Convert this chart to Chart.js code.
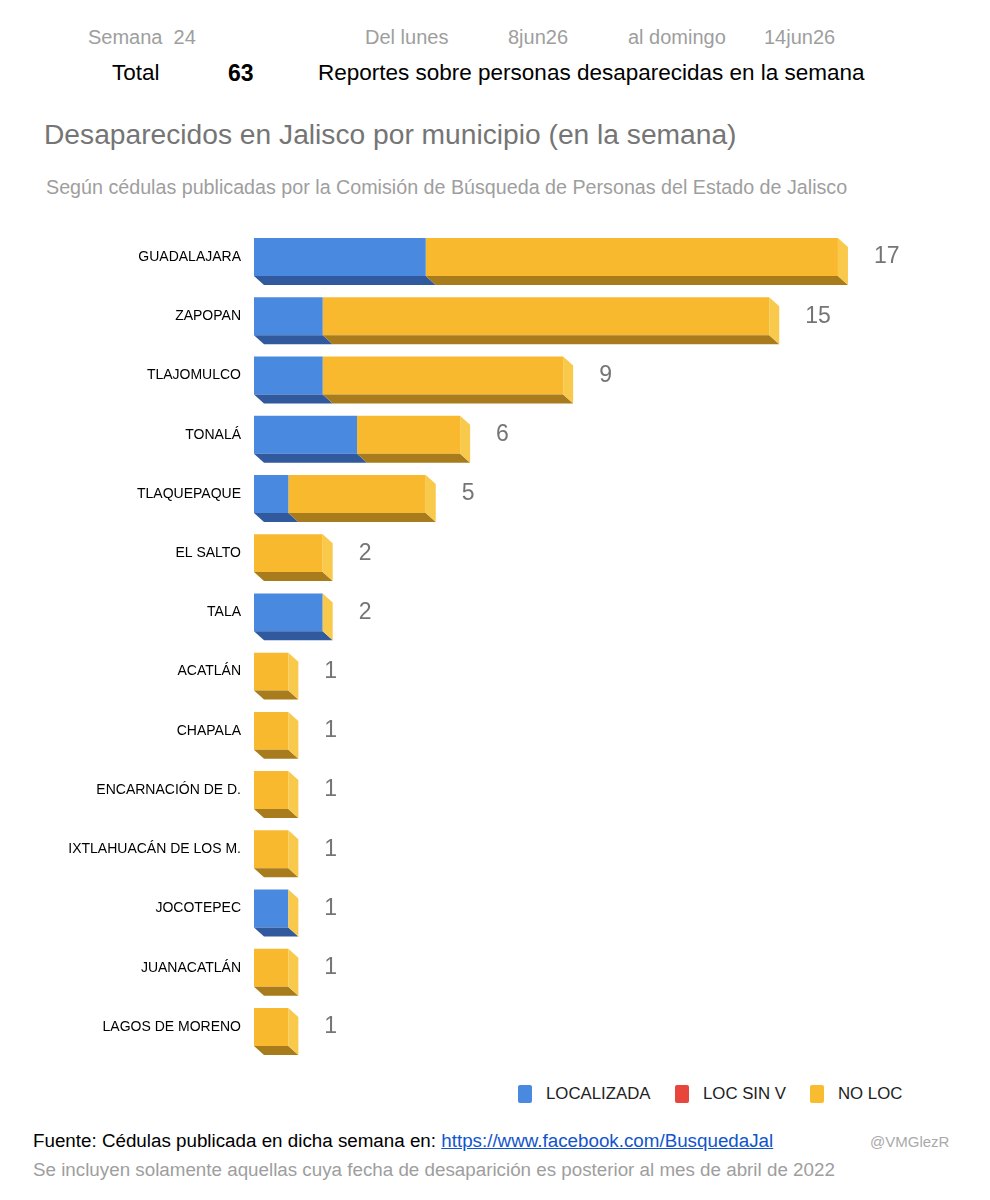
<!DOCTYPE html>
<html>
<head>
<meta charset="utf-8">
<script src="https://cdn.jsdelivr.net/npm/chart.js@4/dist/chart.umd.min.js"></script>
<style>
  body { margin: 0; background: #fff; font-family: "Liberation Sans", Arial, sans-serif; }
  #page { position: relative; width: 990px; height: 1200px; overflow: hidden; }
  .t { position: absolute; white-space: nowrap; line-height: 1; }
  .hd { color: #9e9e9e; font-size: 20px; top: 27px; }
  .tot { color: #000; font-size: 22.5px; top: 62px; }
  #chartBox { position: absolute; left: 0; top: 206px; width: 990px; height: 872px; }
  .lg { position: absolute; top: 1084px; font-size: 16.8px; color: #222; display: flex; align-items: center; }
  .lg span.sw { display: inline-block; width: 14px; height: 18px; border-radius: 2px; margin-right: 14px; }
  a { color: #1155cc; }
</style>
</head>
<body>
<div id="page">
  <div class="t hd" style="left:88px">Semana&nbsp; 24</div>
  <div class="t hd" style="left:365px">Del lunes</div>
  <div class="t hd" style="left:508px">8jun26</div>
  <div class="t hd" style="left:628px">al domingo</div>
  <div class="t hd" style="left:764px">14jun26</div>

  <div class="t tot" style="left:112px">Total</div>
  <div class="t tot" style="left:228px;font-weight:bold;font-size:23px">63</div>
  <div class="t tot" style="left:318px">Reportes sobre personas desaparecidas en la semana</div>

  <div class="t" style="left:44px;top:120px;font-size:28.2px;color:#757575">Desaparecidos en Jalisco por municipio (en la semana)</div>
  <div class="t" style="left:46px;top:178px;font-size:19.7px;color:#9e9e9e">Según cédulas publicadas por la Comisión de Búsqueda de Personas del Estado de Jalisco</div>

  <div id="chartBox"><canvas id="chart"></canvas></div>

  <div class="lg" style="left:518px"><span class="sw" style="background:#4a89e0"></span>LOCALIZADA</div>
  <div class="lg" style="left:675px"><span class="sw" style="background:#e8453c"></span>LOC SIN V</div>
  <div class="lg" style="left:810px"><span class="sw" style="background:#f9bb2f"></span>NO LOC</div>

  <div class="t" style="left:33px;top:1132px;font-size:18.8px;color:#000">Fuente: Cédulas publicada en dicha semana en: <a href="#">https://www.facebook.com/BusquedaJal</a></div>
  <div class="t" style="left:870px;top:1134px;font-size:15px;color:#aaaaaa">@VMGlezR</div>
  <div class="t" style="left:33px;top:1161px;font-size:18.8px;color:#9e9e9e">Se incluyen solamente aquellas cuya fecha de desaparición es posterior al mes de abril de 2022</div>
</div>

<script>
const municipios = ["GUADALAJARA", "ZAPOPAN", "TLAJOMULCO", "TONALÁ", "TLAQUEPAQUE", "EL SALTO", "TALA",
  "ACATLÁN", "CHAPALA", "ENCARNACIÓN DE D.", "IXTLAHUACÁN DE LOS M.", "JOCOTEPEC", "JUANACATLÁN", "LAGOS DE MORENO"];
const localizada = [5, 2, 2, 3, 1, 0, 2, 0, 0, 0, 0, 1, 0, 0];
const locSinV    = [0, 0, 0, 0, 0, 0, 0, 0, 0, 0, 0, 0, 0, 0];
const noLoc      = [12, 13, 7, 3, 4, 2, 0, 1, 1, 1, 1, 0, 1, 1];

const front = ["#4a89e0", "#e8453c", "#f9b92f"];
const bottom = ["#30599e", "#9c2d27", "#a87b1c"];
const sideColor = "#f9c94b";
const DX = 10, DY = 9;

// caras de profundidad (efecto 3D) y totales
const depthPlugin = {
  id: "depth",
  afterDatasetsDraw(chart) {
    const ctx = chart.ctx;
    const n = chart.data.labels.length;
    ctx.save();
    for (let j = 0; j < n; j++) {
      let last = null;
      chart.data.datasets.forEach((ds, i) => {
        const el = chart.getDatasetMeta(i).data[j];
        const x0 = Math.min(el.base, el.x), x1 = Math.max(el.base, el.x);
        const yb = el.y + el.height / 2;
        last = el;
        if (x1 - x0 < 0.5) return;
        ctx.fillStyle = bottom[i];
        ctx.beginPath();
        ctx.moveTo(x0, yb);
        ctx.lineTo(x1, yb);
        ctx.lineTo(x1 + DX, yb + DY);
        ctx.lineTo(x0 + DX, yb + DY);
        ctx.closePath();
        ctx.fill();
      });
      const xe = last.x, yt = last.y - last.height / 2, yb = last.y + last.height / 2;
      ctx.fillStyle = sideColor;
      ctx.beginPath();
      ctx.moveTo(xe, yt);
      ctx.lineTo(xe + DX, yt + DY);
      ctx.lineTo(xe + DX, yb + DY);
      ctx.lineTo(xe, yb);
      ctx.closePath();
      ctx.fill();

      const total = localizada[j] + locSinV[j] + noLoc[j];
      ctx.fillStyle = "#757575";
      ctx.font = "23px 'Liberation Sans', Arial, sans-serif";
      ctx.textBaseline = "middle";
      ctx.textAlign = "left";
      ctx.fillText(String(total), xe + 36, last.y);
    }
    ctx.restore();
  }
};

new Chart(document.getElementById("chart"), {
  type: "bar",
  data: {
    labels: municipios,
    datasets: [
      { label: "LOCALIZADA", data: localizada, backgroundColor: front[0] },
      { label: "LOC SIN V", data: locSinV, backgroundColor: front[1] },
      { label: "NO LOC", data: noLoc, backgroundColor: front[2] }
    ]
  },
  options: {
    indexAxis: "y",
    responsive: true,
    maintainAspectRatio: false,
    animation: false,
    barPercentage: 0.64,
    categoryPercentage: 1,
    layout: { padding: { top: 7, bottom: 13, right: 49, left: 0 } },
    plugins: { legend: { display: false }, tooltip: { enabled: false } },
    scales: {
      x: { stacked: true, min: 0, max: 20, display: false },
      y: {
        stacked: true,
        grid: { display: false, drawTicks: false },
        border: { display: false },
        ticks: { color: "#000", padding: 13, font: { family: "'Liberation Sans', Arial, sans-serif", size: 14 } },
        afterFit(s) { s.width = 254; }
      }
    }
  },
  plugins: [depthPlugin]
});
</script>
</body>
</html>
